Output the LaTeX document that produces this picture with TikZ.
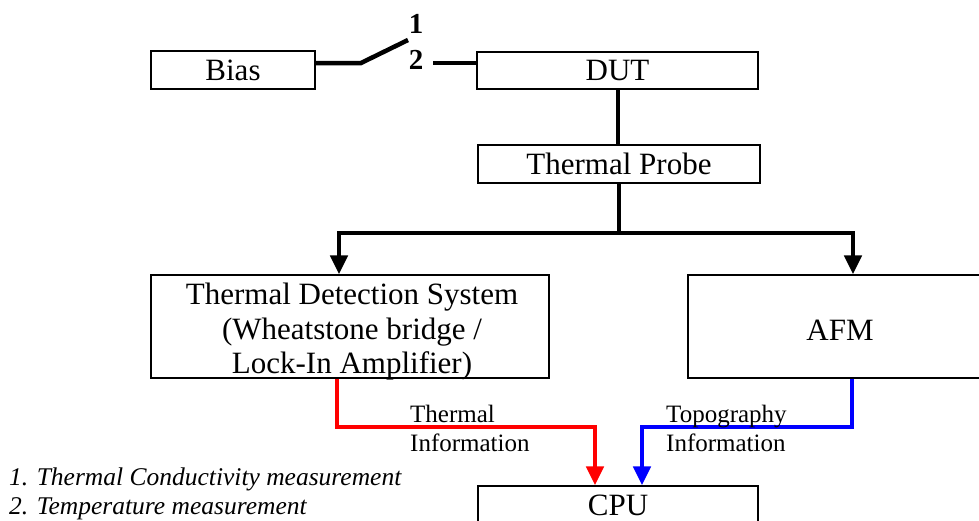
\documentclass[tikz,border=0pt]{standalone}
\usepackage{fontspec}
\setmainfont{Liberation Serif}
\usetikzlibrary{arrows.meta}
\begin{document}
\begin{tikzpicture}[x=1pt,y=-1pt,
  box/.style={draw=black,line width=1.3pt,rectangle,inner sep=0pt,font=\fontsize{31}{35}\selectfont},
  wire/.style={line width=4.5pt,black},
  flow/.style={line width=4.5pt,-{Triangle[width=17pt,length=19pt]}},
  lbl/.style={inner sep=0pt,anchor=base west,font=\fontsize{25}{30}\selectfont},
  note/.style={inner sep=0pt,anchor=base west,font=\fontsize{25.5}{30}\itshape},
  num/.style={inner sep=0pt,anchor=base,font=\fontsize{29}{32}\bfseries}]
\useasboundingbox (0,0) rectangle (979,520);
\clip (0,0) rectangle (979,520);
% boxes
\node[box,minimum width=164pt,minimum height=38pt] (Bias) at (233,70) {Bias};
\node[box,minimum width=281pt,minimum height=37pt] (DUT) at (617.5,70.5) {DUT};
\node[box,minimum width=282pt,minimum height=38pt] (Probe) at (619,164) {Thermal Probe};
\node[box,minimum width=398pt,minimum height=103pt] (TDS) at (350,326.5) {};
\node[inner sep=0pt,align=center,font=\fontsize{31}{34.5}\selectfont] (TDStext) at (352,332)
  {Thermal Detection System\\(Wheatstone bridge /\\Lock-In Amplifier)};
\node[box,minimum width=304pt,minimum height=103pt,text height=28pt,text depth=0pt] (AFM) at (840,326.5) {AFM};
\node[box,minimum width=280pt,minimum height=38pt] (CPU) at (618,505) {CPU};
% switch
\coordinate (sw1) at (361,63);
\coordinate (sw2) at (408,40);
\coordinate (sw3) at (433,63);
\draw[wire] (Bias.east |- sw1) -- (sw1) -- (sw2);
\draw[wire] (sw3) -- (sw3 -| DUT.west);
\node[num] (n1) at (416,33) {1};
\node[num] (n2) at (416,69) {2};
% DUT to probe
\draw[wire] (DUT.south -| 618,0) -- (Probe.north -| 618,0);
% probe branches
\coordinate (br) at (619,233);
\coordinate (ld) at (339,233);
\coordinate (rd) at (853,233);
\draw[wire] (Probe.south) -- (br);
\draw[flow] (br) -- (ld) -- (TDS.north -| ld);
\draw[flow] (br) -- (rd) -- (AFM.north -| rd);
% to CPU
\coordinate (rc1) at (337,427);
\coordinate (rc2) at (595,427);
\coordinate (bc1) at (852,427);
\coordinate (bc2) at (642,427);
\draw[flow,red] (TDS.south -| rc1) -- (rc1) -- (rc2) -- (CPU.north -| rc2);
\draw[flow,blue] (AFM.south -| bc1) -- (bc1) -- (bc2) -- (CPU.north -| bc2);
% labels
\node[lbl] (thA) at (410,422) {Thermal};
\node[lbl] (thB) at (410,451) {Information};
\node[lbl] (toA) at (666,422) {Topography};
\node[lbl] (toB) at (666,451) {Information};
% notes
\node[note] (f1) at (9,485) {1. Thermal Conductivity measurement};
\node[note] (f2) at (9,514) {2. Temperature measurement};
\end{tikzpicture}
\end{document}
